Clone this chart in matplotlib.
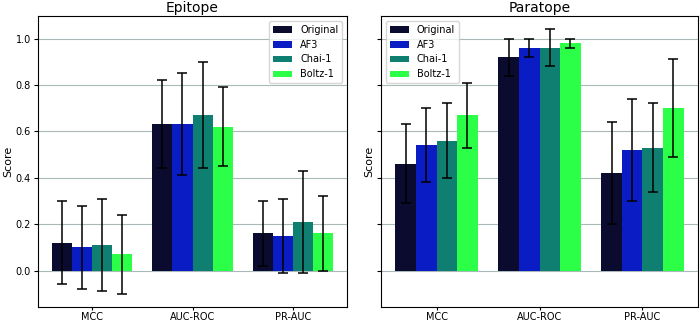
import numpy as np
import matplotlib.pyplot as plt

# Data
metrics = ['MCC', 'AUC-ROC', 'PR-AUC']
models = ['Original', 'AF3', 'Chai-1', 'Boltz-1']
colors = ['#0b0b30', '#0a1cc4', '#0f7f72', '#2bff48']

epi_mean = {
    'Original': [0.12, 0.63, 0.16],
    'AF3': [0.10, 0.63, 0.15],
    'Chai-1': [0.11, 0.67, 0.21],
    'Boltz-1': [0.07, 0.62, 0.16],
}
epi_err = {
    'Original': [0.18, 0.19, 0.14],
    'AF3': [0.18, 0.22, 0.16],
    'Chai-1': [0.20, 0.23, 0.22],
    'Boltz-1': [0.17, 0.17, 0.16],
}
para_mean = {
    'Original': [0.46, 0.92, 0.42],
    'AF3': [0.54, 0.96, 0.52],
    'Chai-1': [0.56, 0.96, 0.53],
    'Boltz-1': [0.67, 0.98, 0.70],
}
para_err = {
    'Original': [0.17, 0.08, 0.22],
    'AF3': [0.16, 0.04, 0.22],
    'Chai-1': [0.16, 0.08, 0.19],
    'Boltz-1': [0.14, 0.02, 0.21],
}

fig = plt.figure(figsize=(7, 3.23), dpi=100)
ax1 = fig.add_axes([38/700, 1-307/323, 309/700, 291/323])
ax2 = fig.add_axes([381/700, 1-307/323, 317/700, 291/323], sharey=ax1)

x = np.arange(len(metrics))
width = 0.2

def draw(ax, means, errs, title, legend_loc):
    for i, m in enumerate(models):
        ax.bar(x + (i - 1.5) * width, means[m], width, yerr=errs[m],
               color=colors[i], label=m, capsize=3.5,
               error_kw=dict(ecolor='black', elinewidth=1.1, capthick=1.1), zorder=3)
    ax.set_xticks(x)
    ax.set_xticklabels(metrics, fontsize=7)
    ax.set_title(title, fontsize=10, pad=3)
    ax.set_ylabel('Score', fontsize=8, labelpad=2)
    ax.yaxis.grid(True, color='#a9b9b9', linewidth=0.8, zorder=0)
    ax.set_axisbelow(True)
    ax.tick_params(axis='x', length=2, pad=1.5)
    ax.tick_params(axis='y', labelsize=7, length=3, pad=2)
    ax.legend(loc=legend_loc, fontsize=7)

draw(ax1, epi_mean, epi_err, 'Epitope', 'upper right')
draw(ax2, para_mean, para_err, 'Paratope', 'upper left')
plt.setp(ax2.get_yticklabels(), visible=False)

fig.savefig('out.png', dpi=100)
